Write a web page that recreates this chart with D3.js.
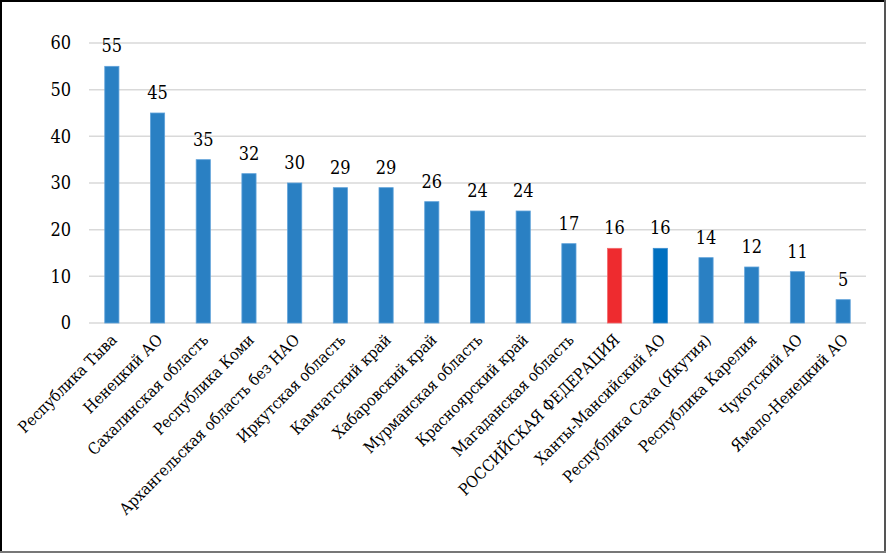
<!DOCTYPE html>
<html><head><meta charset="utf-8">
<script src="https://cdn.jsdelivr.net/npm/d3@7"></script>
<style>body{margin:0;background:#fff}svg{display:block}</style>
</head><body>
<svg id="c" width="886" height="553"></svg>
<script>
const categories = ["Республика Тыва","Ненецкий АО","Сахалинская область","Республика Коми","Архангельская область без НАО","Иркутская область","Камчатский край","Хабаровский край","Мурманская область","Красноярский край","Магаданская область","РОССИЙСКАЯ ФЕДЕРАЦИЯ","Ханты-Мансийский АО","Республика Саха (Якутия)","Республика Карелия","Чукотский АО","Ямало-Ненецкий АО"];
const values = [55,45,35,32,30,29,29,26,24,24,17,16,16,14,12,11,5];
const yTicks = [0,10,20,30,40,50,60];
const colorOf = c => c === "РОССИЙСКАЯ ФЕДЕРАЦИЯ" ? "#ee2b2f" : (c === "Ханты-Мансийский АО" ? "#0070c0" : "#2a80c3");
const strokeOf = c => c === "РОССИЙСКАЯ ФЕДЕРАЦИЯ" ? "#f26a6c" : (c === "Ханты-Мансийский АО" ? "#3d8fd0" : "#5fa2da");
const FONT = "DejaVu Serif";

const svg = d3.select("#c");
svg.append("rect").attr("x",0).attr("y",0).attr("width",886).attr("height",553).attr("fill","#fff");
const x = d3.scaleBand().domain(categories).range([89,866]).paddingInner(0.69).paddingOuter(0.345);
const y = d3.scaleLinear().domain([0,60]).range([323,43]);

svg.append("g").selectAll("line").data(yTicks).join("line")
  .attr("x1",89).attr("x2",866).attr("y1",d=>y(d)).attr("y2",d=>y(d))
  .attr("stroke","#d9d9d9").attr("stroke-width",1.5);

svg.append("g").selectAll("text").data(yTicks).join("text")
  .attr("font-family",FONT).attr("font-stretch","condensed")
  .attr("x",71).attr("y",d=>y(d)).attr("dy","0.35em").attr("text-anchor","end")
  .attr("font-size",18).text(d=>d);

svg.append("g").selectAll("rect").data(categories).join("rect")
  .attr("x",d=>x(d)).attr("width",x.bandwidth())
  .attr("y",(d,i)=>y(values[i])).attr("height",(d,i)=>y(0)-y(values[i]))
  .attr("fill",colorOf).attr("stroke",strokeOf).attr("stroke-width",0.8);

svg.append("g").selectAll("text").data(categories).join("text")
  .attr("font-family",FONT).attr("font-stretch","condensed")
  .attr("x",d=>x(d)+x.bandwidth()/2).attr("y",(d,i)=>y(values[i])-14)
  .attr("text-anchor","middle").attr("font-size",18).text((d,i)=>values[i]);

svg.append("g").selectAll("text").data(categories).join("text")
  .attr("font-family",FONT).attr("font-stretch","condensed")
  .attr("transform",d=>`translate(${x(d)+x.bandwidth()/2+6},${y(0)+18}) rotate(-45)`)
  .attr("text-anchor","end").attr("font-size",16).text(d=>d);

svg.append("line").attr("x1",0).attr("x2",886).attr("y1",1).attr("y2",1).attr("stroke","#000").attr("stroke-width",2);
svg.append("line").attr("x1",1).attr("x2",1).attr("y1",0).attr("y2",553).attr("stroke","#000").attr("stroke-width",2);
svg.append("line").attr("x1",885).attr("x2",885).attr("y1",0).attr("y2",553).attr("stroke","#555").attr("stroke-width",2);
svg.append("line").attr("x1",0).attr("x2",886).attr("y1",552).attr("y2",552).attr("stroke","#777").attr("stroke-width",2);
</script>
</body></html>
